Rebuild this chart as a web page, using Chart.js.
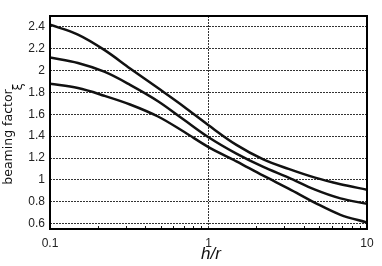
<!DOCTYPE html>
<html>
<head>
<meta charset="utf-8">
<script src="https://cdn.jsdelivr.net/npm/chart.js@4/dist/chart.umd.min.js"></script>
<style>
  html, body { margin: 0; padding: 0; background: #fff; }
  #wrap { width: 382px; height: 266px; }
</style>
</head>
<body>
<div id="wrap"><canvas id="chart" width="382" height="266"></canvas></div>
<script>
// h/r values (log axis)
const hr = [0.1, 0.15, 0.22, 0.32, 0.48, 0.7, 1, 1.5, 2.2, 3.2, 4.7, 6.8, 10];
// beaming factor curves, top to bottom
const upperCurve = [2.42, 2.33, 2.19, 2.02, 1.84, 1.67, 1.50, 1.32, 1.19, 1.10, 1.02, 0.96, 0.91];
const middleCurve = [2.12, 2.07, 1.99, 1.87, 1.72, 1.55, 1.39, 1.24, 1.12, 1.02, 0.91, 0.83, 0.78];
const lowerCurve = [1.88, 1.84, 1.77, 1.69, 1.58, 1.44, 1.30, 1.17, 1.04, 0.92, 0.79, 0.68, 0.61];

const xTicks = [0.1, 0.2, 0.3, 0.4, 0.5, 0.6, 0.7, 0.8, 0.9, 1, 2, 3, 4, 5, 6, 7, 8, 9, 10];
const xLabels = [0.1, 1, 10];
const yTicks = [0.6, 0.8, 1, 1.2, 1.4, 1.6, 1.8, 2, 2.2, 2.4];

const toPoints = (ys) => hr.map((x, i) => ({ x: x, y: ys[i] }));

const lineStyle = {
    borderColor: '#111',
    borderWidth: 2.5,
    pointRadius: 0,
    fill: false,
    tension: 0.35
};

const framePlugin = {
    id: 'frame',
    afterDraw(chart) {
        const { ctx, chartArea: a, scales } = chart;
        ctx.save();
        // minor ticks along the bottom axis
        ctx.strokeStyle = '#111';
        ctx.lineWidth = 1;
        for (const v of xTicks) {
            if (xLabels.includes(v)) continue;
            const px = Math.round(scales.x.getPixelForValue(v)) + 0.5;
            ctx.beginPath();
            ctx.moveTo(px, a.bottom);
            ctx.lineTo(px, a.bottom - 3);
            ctx.stroke();
        }
        // box
        ctx.lineWidth = 2;
        ctx.strokeStyle = '#000';
        ctx.strokeRect(a.left, a.top, a.right - a.left, a.bottom - a.top);

        // axis titles
        ctx.fillStyle = '#111';
        ctx.font = 'italic 17px "Liberation Sans", sans-serif';
        ctx.textAlign = 'center';
        ctx.textBaseline = 'middle';
        ctx.fillText('h/r', 211, 254);

        ctx.translate(9, 137);
        ctx.rotate(-Math.PI / 2);
        ctx.font = '12.5px "DejaVu Sans", sans-serif';
        ctx.fillText('beaming factor', 0, 0);
        ctx.font = '13px "DejaVu Sans", sans-serif';
        ctx.fillText('ξ', 50, 10);
        ctx.restore();
    }
};

new Chart(document.getElementById('chart'), {
    type: 'line',
    data: {
        datasets: [
            Object.assign({ label: 'upper', data: toPoints(upperCurve) }, lineStyle),
            Object.assign({ label: 'middle', data: toPoints(middleCurve) }, lineStyle),
            Object.assign({ label: 'lower', data: toPoints(lowerCurve) }, lineStyle)
        ]
    },
    options: {
        responsive: false,
        animation: false,
        layout: { padding: { top: 16, right: 15, left: 0, bottom: 0 } },
        plugins: {
            legend: { display: false },
            tooltip: { enabled: false }
        },
        scales: {
            x: {
                type: 'logarithmic',
                min: 0.1,
                max: 10,
                afterBuildTicks: (scale) => {
                    scale.ticks = xTicks.map(v => ({ value: v }));
                },
                afterFit: (scale) => { scale.height = 37; },
                ticks: {
                    autoSkip: false,
                    maxRotation: 0,
                    padding: 7,
                    color: '#222',
                    font: { family: '"Liberation Sans", sans-serif', size: 12 },
                    callback: (v) => xLabels.includes(v) ? String(v) : ''
                },
                grid: {
                    drawTicks: false,
                    lineWidth: 1,
                    color: (c) => (c.tick && c.tick.value === 1) ? '#333' : 'rgba(0,0,0,0)'
                },
                border: { display: false, dash: [2, 1] }
            },
            y: {
                min: 0.55,
                max: 2.5,
                afterBuildTicks: (scale) => {
                    scale.ticks = yTicks.map(v => ({ value: v }));
                },
                afterFit: (scale) => { scale.width = 50; },
                ticks: {
                    padding: 5,
                    color: '#222',
                    font: { family: '"Liberation Sans", sans-serif', size: 12 },
                    callback: (v) => String(Math.round(v * 10) / 10)
                },
                grid: {
                    drawTicks: false,
                    lineWidth: 1,
                    color: '#333'
                },
                border: { display: false, dash: [2, 1] }
            }
        }
    },
    plugins: [framePlugin]
});
</script>
</body>
</html>
